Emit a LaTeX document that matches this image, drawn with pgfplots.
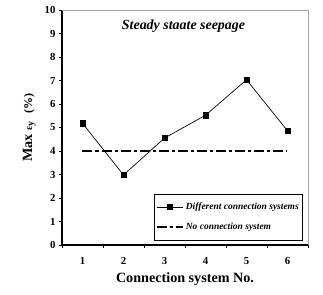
\documentclass[border=0pt]{standalone}
\usepackage{pgfplots}
\pgfplotsset{compat=1.18}
\usepackage{fontspec}
\setmainfont{Liberation Serif}
\begin{document}
\begin{tikzpicture}[x=1bp,y=1bp]
\begin{axis}[name=ax,
  scale only axis, width=246bp, height=235bp,
  xmin=0.5, xmax=6.5, ymin=0, ymax=10,
  axis x line*=bottom, axis y line*=left,
  axis line style={line width=1.1bp, -},
  xtick={1,...,6}, minor xtick={0.5,1.5,2.5,3.5,4.5,5.5,6.5},
  major x tick style={draw=none},
  minor tick length=3bp, major tick length=3bp,
  tick align=outside,
  tick style={black, line width=0.8bp},
  ytick={0,...,10},
  tick label style={font=\fontsize{10.8}{12}\selectfont\bfseries},
  /pgf/number format/assume math mode=true,
  xticklabel style={yshift=-6bp},
  xlabel={Connection system No.},
  ylabel={Max {\fontsize{10}{12}\selectfont ε\raisebox{-1.5bp}{y}}\hspace{8bp}{\fontsize{12}{14}\selectfont(\%)}},
  label style={font=\fontsize{14.2}{16}\selectfont\bfseries},
  xlabel style={yshift=-1bp},
  ylabel style={yshift=2bp},
  clip=false,
  legend image code/.code={\draw[mark repeat=2,mark phase=2,#1] plot coordinates {(0bp,0bp) (13bp,0bp) (26bp,0bp)};},
  legend style={at={(rel axis cs:0.98,0.02)}, anchor=south east,
    font=\fontsize{9.5}{11}\selectfont\bfseries\itshape,
    draw=black, line width=0.6bp, inner xsep=2bp, inner ysep=7bp,
    row sep=8bp, cells={anchor=west}},
  legend cell align=left,
]
\draw[gray!70, line width=0.8bp] (rel axis cs:0,1) -- (rel axis cs:1,1) -- (rel axis cs:1,0);
\addplot[black, line width=0.7bp, mark=square*, mark size=2.6bp, mark options={solid}]
  coordinates {(1,5.18) (2,2.98) (3,4.55) (4,5.52) (5,7.03) (6,4.86)};
\addlegendentry{Different connection systems}
\addplot[black, line width=2bp, dash pattern=on 10bp off 3bp on 3bp off 3bp]
  coordinates {(1,4.02) (6,4.02)};
\addlegendentry{No connection system}
\node[font=\fontsize{14}{16}\selectfont\bfseries\itshape] at (rel axis cs:0.494,0.93) {Steady staate seepage};
\end{axis}
\path ([shift={(-62bp,-50bp)}]ax.south west) rectangle ([shift={(261bp,245bp)}]ax.south west);
\end{tikzpicture}
\end{document}
